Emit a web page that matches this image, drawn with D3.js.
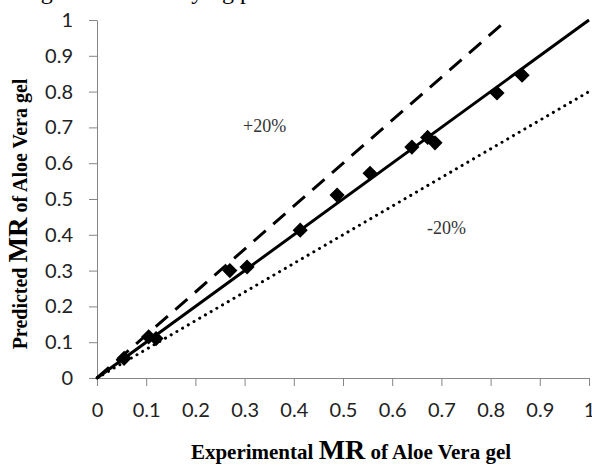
<!DOCTYPE html>
<html>
<head>
<meta charset="utf-8">
<script src="https://cdn.jsdelivr.net/npm/d3@7"></script>
<style>
  body { margin: 0; background: #fff; }
  svg { display: block; }
</style>
</head>
<body>
<svg id="chart" width="592" height="468"></svg>
<script>
// experimental vs predicted moisture ratio
const experimental = [0.055, 0.105, 0.12, 0.27, 0.305, 0.413, 0.488, 0.555, 0.64, 0.672, 0.687, 0.813, 0.864];
const predicted    = [0.055, 0.115, 0.11, 0.30, 0.31, 0.413, 0.511, 0.572, 0.645, 0.672, 0.657, 0.796, 0.846];

// reference lines: y = k * x
const lineNames  = ["+20%", "ideal", "-20%"];
const lineSlopes = [1.2, 1.0, 0.8];

const xTicks = [0, 0.1, 0.2, 0.3, 0.4, 0.5, 0.6, 0.7, 0.8, 0.9, 1];
const yTicks = [0, 0.1, 0.2, 0.3, 0.4, 0.5, 0.6, 0.7, 0.8, 0.9, 1];

const svg = d3.select("#chart");

// plot area edges
const plotLeft = 97, plotRight = 589, plotTop = 20, plotBottom = 378;

const xScale = d3.scaleLinear().domain([0, 1]).range([plotLeft, plotRight]);
const yScale = d3.scaleLinear().domain([0, 1]).range([plotBottom, plotTop]);

// cut-off caption from the page above the figure
svg.append("text")
    .attr("x", 318)
    .attr("y", -1)
    .attr("text-anchor", "end")
    .style("font-family", "Liberation Serif")
    .style("font-size", "24px")
    .text("of Aloe Vera gel during microwave drying process.");

// axes
const xAxis = d3.axisBottom(xScale)
    .tickValues(xTicks)
    .tickFormat(d3.format("~g"))
    .tickSize(8)
    .tickSizeOuter(0)
    .tickPadding(17);

const yAxis = d3.axisLeft(yScale)
    .tickValues(yTicks)
    .tickFormat(d3.format("~g"))
    .tickSize(8)
    .tickSizeOuter(0)
    .tickPadding(16);

function styleAxis(g){
    g.selectAll("path, line").attr("stroke", "#868686").attr("stroke-width", 1);
    g.selectAll("text")
        .attr("fill", "#222")
        .style("font-family", "Lato")
        .style("font-size", "20px");
}

svg.append("g")
    .attr("transform", "translate(0," + plotBottom + ")")
    .call(xAxis)
    .call(styleAxis);

svg.append("g")
    .attr("transform", "translate(" + plotLeft + ",0)")
    .call(yAxis)
    .call(styleAxis);

// reference lines
const dashes = { "+20%": "16,10", "ideal": null, "-20%": "0.1,6.5" };
lineNames.forEach((name, i) => {
    const k = lineSlopes[i];
    const xEnd = Math.min(1, 1 / k);
    const path = svg.append("line")
        .attr("x1", xScale(0))
        .attr("y1", yScale(0))
        .attr("x2", xScale(xEnd))
        .attr("y2", yScale(k * xEnd))
        .attr("stroke", "#000")
        .attr("stroke-width", 3)
        .attr("stroke-linecap", name === "-20%" ? "round" : "butt");
    if (dashes[name]) path.attr("stroke-dasharray", dashes[name]);
});

// data points as diamonds
const diamond = d3.symbol().type(d3.symbolSquare).size(115);
svg.selectAll(".pt")
    .data(experimental)
    .enter()
    .append("path")
    .attr("class", "pt")
    .attr("d", diamond)
    .attr("transform", (d, i) => "translate(" + xScale(d) + "," + yScale(predicted[i]) + ") rotate(45)")
    .attr("fill", "#000");

// band labels
svg.append("text")
    .attr("x", 243).attr("y", 132)
    .style("font-family", "Liberation Serif")
    .style("font-size", "18px")
    .attr("fill", "#333")
    .text("+20%");

svg.append("text")
    .attr("x", 427).attr("y", 234)
    .style("font-family", "Liberation Serif")
    .style("font-size", "18px")
    .attr("fill", "#333")
    .text("-20%");

// axis titles
const xTitle = svg.append("text")
    .attr("x", 351).attr("y", 459)
    .attr("text-anchor", "middle")
    .style("font-family", "Liberation Serif")
    .style("font-weight", "bold")
    .style("font-size", "21px");
xTitle.append("tspan").text("Experimental ");
xTitle.append("tspan").style("font-size", "28px").text("MR");
xTitle.append("tspan").text(" of Aloe Vera gel");

const yTitle = svg.append("text")
    .attr("transform", "translate(27,214) rotate(-90)")
    .attr("text-anchor", "middle")
    .style("font-family", "Liberation Serif")
    .style("font-weight", "bold")
    .style("font-size", "20px");
yTitle.append("tspan").text("Predicted ");
yTitle.append("tspan").style("font-size", "27px").text("MR");
yTitle.append("tspan").text(" of Aloe Vera gel");
</script>
</body>
</html>
